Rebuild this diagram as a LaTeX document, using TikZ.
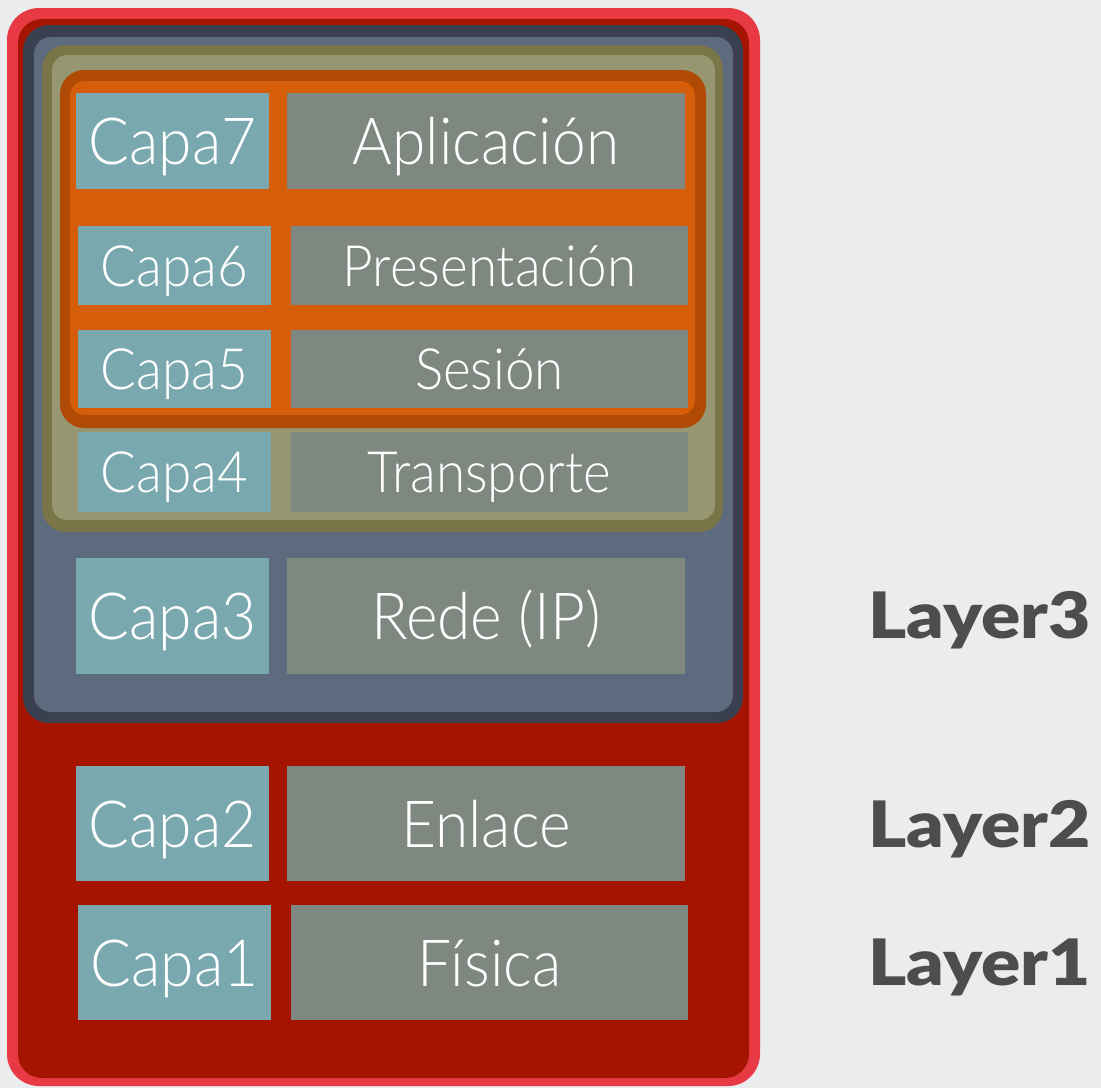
\documentclass[tikz,border=0pt]{standalone}
\usepackage{fontspec}
\setmainfont{Lato}
% light, slightly narrow face for the box texts; falls back to the regular weight
\IfFontExistsTF{Lato Light}
  {\newfontfamily\boxfont{Lato Light}[FakeStretch=0.93]}
  {\newfontfamily\boxfont{Lato}[FakeStretch=0.93]}
% heavy, wide face for the side labels
\IfFontExistsTF{Lato Black}
  {\newfontfamily\layerfont{Lato Black}[FakeStretch=1.14]}
  {\newfontfamily\layerfont{Lato Bold}[FakeStretch=1.14]}
\definecolor{bgpaper}{HTML}{EBECEE}
\definecolor{redrim}{HTML}{E83A45}
\definecolor{redfill}{HTML}{A51400}
\definecolor{slaterim}{HTML}{3B4051}
\definecolor{slatefill}{HTML}{5E6A7E}
\definecolor{olivedark}{HTML}{7A7549}
\definecolor{olivefill}{HTML}{969670}
\definecolor{orangerim}{HTML}{B04A05}
\definecolor{orangefill}{HTML}{D65D0A}
\definecolor{tealbox}{HTML}{79A9AE}
\definecolor{graybox}{HTML}{7E8780}
\definecolor{layertext}{HTML}{4D4D4D}
\tikzset{
  cell/.style={draw=none, inner sep=0pt, text=white, text depth=0pt},
  capbox/.style={cell, fill=tealbox, minimum width=193pt},
  namebox/.style={cell, fill=graybox},
  bigtxt/.style={font=\boxfont\fontsize{65}{70}\selectfont, text height=47pt},
  smalltxt/.style={font=\boxfont\fontsize{57}{62}\selectfont, text height=41pt},
  layerlbl/.style={anchor=base west, inner sep=0pt, text=layertext,
    font=\layerfont\fontsize{64}{70}\selectfont}
}
\begin{document}
\begin{tikzpicture}[x=1pt, y=-1pt]
  % page background
  \fill[bgpaper] (0,0) rectangle (1101,1088);
  \useasboundingbox (0,0) rectangle (1101,1088);

  % nested frames: each is a rim colour with a fill colour inside
  \fill[redrim, rounded corners=32pt] (7,8) rectangle (760,1086);
  \fill[redfill, rounded corners=24pt] (18,19) rectangle (749,1078);
  \fill[slaterim, rounded corners=26pt] (23,25) rectangle (743,723);
  \fill[slatefill, rounded corners=17pt] (34,37) rectangle (733,712);
  \fill[olivedark, rounded corners=24pt] (42,45) rectangle (723,532);
  \fill[olivefill, rounded corners=15pt] (52,55) rectangle (715,520);
  \fill[orangerim, rounded corners=24pt] (60,70) rectangle (706,428);
  \fill[orangefill, rounded corners=15pt] (70,81) rectangle (695,415);

  % layer 7
  \node[capbox, bigtxt, minimum height=96pt] (c7) at (172.5,141) {Capa7};
  \node[namebox, bigtxt, minimum width=398pt, minimum height=96pt] (n7) at (486,141) {Aplicación};
  % layer 6
  \node[capbox, smalltxt, minimum height=79pt] (c6) at (174.5,265.5) {Capa6};
  \node[namebox, smalltxt, minimum width=397pt, minimum height=79pt] (n6) at (489.5,265.5) {Presentación};
  % layer 5
  \node[capbox, smalltxt, minimum height=78pt] (c5) at (174.5,369) {Capa5};
  \node[namebox, smalltxt, minimum width=397pt, minimum height=78pt] (n5) at (489.5,369) {Sesión};
  % layer 4
  \node[capbox, smalltxt, minimum height=80pt] (c4) at (174.5,472) {Capa4};
  \node[namebox, smalltxt, minimum width=397pt, minimum height=80pt] (n4) at (489.5,472) {Transporte};
  % layer 3
  \node[capbox, bigtxt, minimum height=116pt] (c3) at (172.5,616) {Capa3};
  \node[namebox, bigtxt, minimum width=398pt, minimum height=116pt] (n3) at (486,616) {Rede (IP)};
  % layer 2
  \node[capbox, bigtxt, minimum height=115pt] (c2) at (172.5,823.5) {Capa2};
  \node[namebox, bigtxt, minimum width=398pt, minimum height=115pt] (n2) at (486,823.5) {Enlace};
  % layer 1
  \node[capbox, bigtxt, minimum height=115pt] (c1) at (174.5,962.5) {Capa1};
  \node[namebox, bigtxt, minimum width=397pt, minimum height=115pt] (n1) at (489.5,962.5) {Física};

  % side labels
  \node[layerlbl] (l3) at (868,638) {Layer3};
  \node[layerlbl] (l2) at (868,847) {Layer2};
  \node[layerlbl] (l1) at (868,985) {Layer1};
\end{tikzpicture}
\end{document}
